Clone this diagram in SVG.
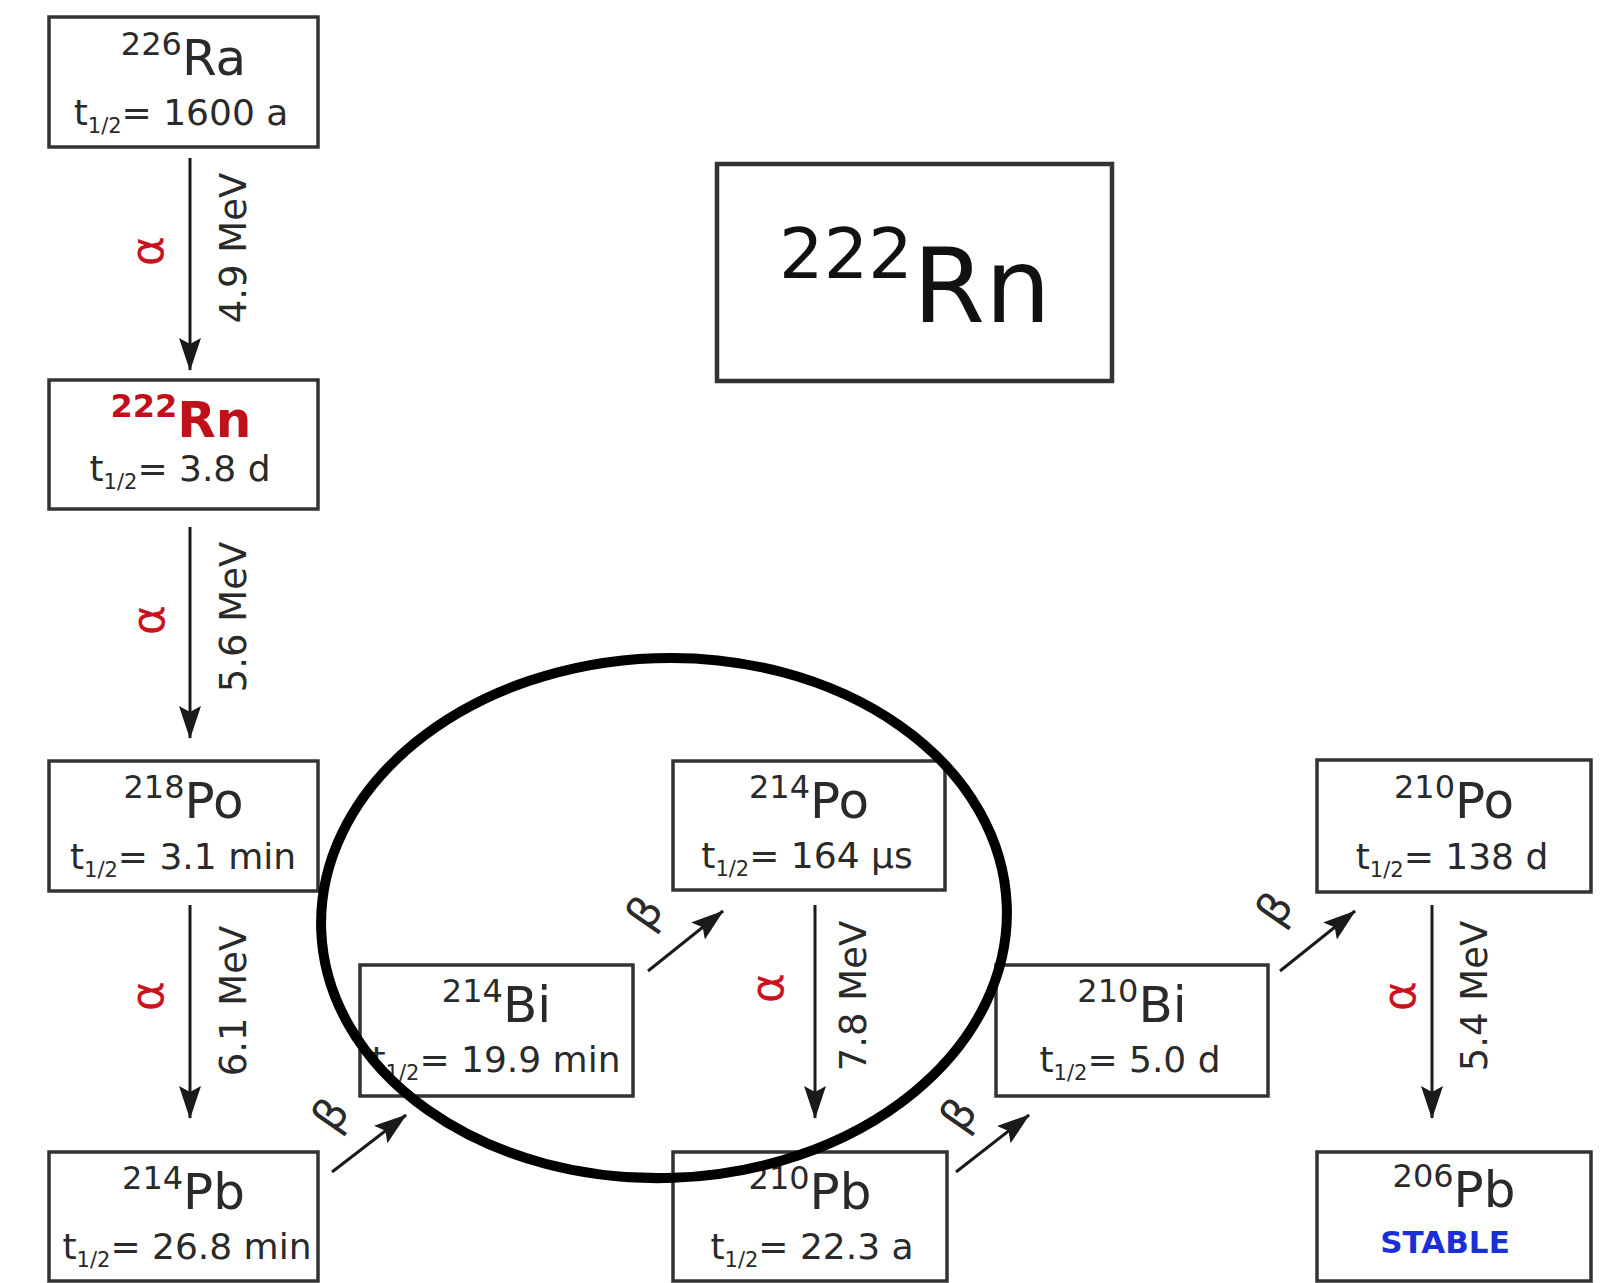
<svg xmlns="http://www.w3.org/2000/svg" width="1619" height="1283" viewBox="0 0 1619 1283">
<defs>
<style>
.box{fill:#fff;stroke:#333;stroke-width:3.5}
text{font-family:"DejaVu Sans","Liberation Sans",sans-serif;fill:#2a2a2a}
.sym{font-size:50px;text-anchor:middle}
.sup{font-size:32px}
.hl{font-size:36px;text-anchor:middle}
.sub{font-size:21px}
.alpha{font-size:46px;fill:#c8141e;text-anchor:middle;dominant-baseline:central}
.beta{font-size:44px;text-anchor:middle;dominant-baseline:central}
.mev{font-size:37px;text-anchor:middle;dominant-baseline:central}
.arr{stroke:#1a1a1a;stroke-width:3;fill:none;marker-end:url(#ah)}
</style>
<marker id="ah" markerUnits="userSpaceOnUse" markerWidth="34" markerHeight="24" refX="32" refY="11" orient="auto">
<path d="M0,0 L33,11 L0,22 L6,11 z" fill="#1a1a1a"/>
</marker>
</defs>
<rect width="1619" height="1283" fill="#fff"/>

<g id="connectors">
<line class="arr" x1="190" y1="158" x2="190" y2="370"/>
<line class="arr" x1="190" y1="527" x2="190" y2="738"/>
<line class="arr" x1="190" y1="905" x2="190" y2="1118"/>
<line class="arr" x1="815" y1="905" x2="815" y2="1118"/>
<line class="arr" x1="1432" y1="905" x2="1432" y2="1118"/>
<line class="arr" x1="332" y1="1172" x2="406" y2="1115"/>
<line class="arr" x1="648" y1="971" x2="723" y2="911"/>
<line class="arr" x1="956" y1="1172" x2="1029" y2="1115"/>
<line class="arr" x1="1280" y1="971" x2="1355" y2="911"/>

<text class="alpha" transform="translate(147,251) rotate(-90)">α</text>
<text class="mev" transform="translate(233,248) rotate(-90)">4.9 MeV</text>
<text class="alpha" transform="translate(148,620) rotate(-90)">α</text>
<text class="mev" transform="translate(233,617) rotate(-90)">5.6 MeV</text>
<text class="alpha" transform="translate(147,996) rotate(-90)">α</text>
<text class="mev" transform="translate(233,1001) rotate(-90)">6.1 MeV</text>
<text class="alpha" transform="translate(767,988) rotate(-90)">α</text>
<text class="mev" transform="translate(853,996) rotate(-90)">7.8 MeV</text>
<text class="alpha" transform="translate(1399,996) rotate(-90)">α</text>
<text class="mev" transform="translate(1474,996) rotate(-90)">5.4 MeV</text>

<text class="beta" transform="translate(330,1114) rotate(-55)">β</text>
<text class="beta" transform="translate(644,912) rotate(-55)">β</text>
<text class="beta" transform="translate(958,1114) rotate(-55)">β</text>
<text class="beta" transform="translate(1274,908) rotate(-55)">β</text>
</g>

<g id="ra226">
<rect class="box" x="49" y="17" width="269" height="130"/>
<text class="sym" x="183.5" y="75"><tspan class="sup" dy="-20">226</tspan><tspan dy="20">Ra</tspan></text>
<text class="hl" x="181" y="125">t<tspan class="sub" dy="8">1/2</tspan><tspan dy="-8">= 1600 a</tspan></text>
</g>

<g id="rn222">
<rect class="box" x="49" y="380" width="269" height="129"/>
<text class="sym" x="181" y="437" style="font-weight:bold;fill:#c0101a"><tspan class="sup" dy="-20" style="fill:#c0101a">222</tspan><tspan dy="20" style="fill:#c0101a">Rn</tspan></text>
<text class="hl" x="180" y="481">t<tspan class="sub" dy="8">1/2</tspan><tspan dy="-8">= 3.8 d</tspan></text>
</g>

<g id="po218">
<rect class="box" x="49" y="761" width="269" height="130"/>
<text class="sym" x="183.5" y="818"><tspan class="sup" dy="-20">218</tspan><tspan dy="20">Po</tspan></text>
<text class="hl" x="183" y="869">t<tspan class="sub" dy="8">1/2</tspan><tspan dy="-8">= 3.1 min</tspan></text>
</g>

<g id="pb214">
<rect class="box" x="49" y="1152" width="269" height="129"/>
<text class="sym" x="183.5" y="1209"><tspan class="sup" dy="-20">214</tspan><tspan dy="20">Pb</tspan></text>
<text class="hl" x="187" y="1259">t<tspan class="sub" dy="8">1/2</tspan><tspan dy="-8">= 26.8 min</tspan></text>
</g>

<g id="bi214">
<rect class="box" x="360" y="965" width="273" height="131"/>
<text class="sym" x="496.5" y="1022"><tspan class="sup" dy="-20">214</tspan><tspan dy="20">Bi</tspan></text>
<text class="hl" x="496" y="1072">t<tspan class="sub" dy="8">1/2</tspan><tspan dy="-8">= 19.9 min</tspan></text>
</g>

<g id="po214">
<rect class="box" x="673" y="761" width="272" height="129"/>
<text class="sym" x="809" y="818"><tspan class="sup" dy="-20">214</tspan><tspan dy="20">Po</tspan></text>
<text class="hl" x="807" y="868">t<tspan class="sub" dy="8">1/2</tspan><tspan dy="-8">= 164 µs</tspan></text>
</g>

<g id="pb210">
<rect class="box" x="673" y="1152" width="274" height="129"/>
<text class="sym" x="810" y="1209"><tspan class="sup" dy="-20">210</tspan><tspan dy="20">Pb</tspan></text>
<text class="hl" x="812" y="1259">t<tspan class="sub" dy="8">1/2</tspan><tspan dy="-8">= 22.3 a</tspan></text>
</g>

<g id="bi210">
<rect class="box" x="996" y="965" width="272" height="131"/>
<text class="sym" x="1132" y="1022"><tspan class="sup" dy="-20">210</tspan><tspan dy="20">Bi</tspan></text>
<text class="hl" x="1130" y="1072">t<tspan class="sub" dy="8">1/2</tspan><tspan dy="-8">= 5.0 d</tspan></text>
</g>

<g id="po210">
<rect class="box" x="1317" y="760" width="274" height="132"/>
<text class="sym" x="1454" y="818"><tspan class="sup" dy="-20">210</tspan><tspan dy="20">Po</tspan></text>
<text class="hl" x="1452" y="869">t<tspan class="sub" dy="8">1/2</tspan><tspan dy="-8">= 138 d</tspan></text>
</g>

<g id="pb206">
<rect class="box" x="1317" y="1152" width="274" height="129"/>
<text class="sym" x="1454" y="1207"><tspan class="sup" dy="-20">206</tspan><tspan dy="20">Pb</tspan></text>
<text x="1445" y="1253" style="font-size:31px;font-weight:bold;fill:#1a2fd8;text-anchor:middle">STABLE</text>
</g>

<g id="rn222-title">
<rect x="717" y="164" width="395" height="217" fill="#fff" stroke="#333" stroke-width="4.5"/>
<text x="915" y="322" style="font-size:104px;text-anchor:middle;fill:#111"><tspan dy="-44" style="font-size:70px">222</tspan><tspan dy="44">Rn</tspan></text>
</g>

<g id="highlight">
<ellipse cx="664" cy="918" rx="343" ry="260" transform="rotate(-2 664 918)" fill="none" stroke="#000" stroke-width="10"/>
</g>
</svg>
